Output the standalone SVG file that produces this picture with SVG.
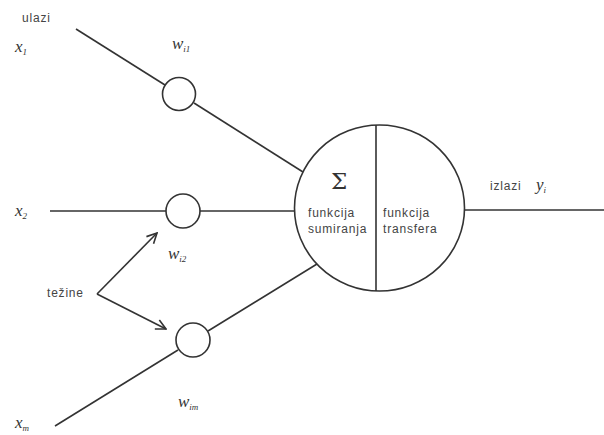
<svg xmlns="http://www.w3.org/2000/svg" width="604" height="435" viewBox="0 0 604 435">
  <style>
    .ln { stroke: #333; stroke-width: 1.6; fill: none; }
    .node { stroke: #333; stroke-width: 1.6; fill: #fff; }
    .lbl { font-family: "Liberation Sans", Arial, sans-serif; font-size: 12px; letter-spacing: 0.8px; fill: #444; }
    .var { font-family: "Liberation Serif", "Times New Roman", serif; font-style: italic; font-size: 17px; fill: #333; }
    .sub { font-size: 9px; }
  </style>
  <defs>
    <marker id="arr" viewBox="0 0 12 12" refX="11" refY="6" markerWidth="12" markerHeight="12" markerUnits="userSpaceOnUse" orient="auto">
      <path d="M1,1 L11,6 L1,11" fill="none" stroke="#333" stroke-width="1.6"/>
    </marker>
  </defs>

  <g id="connectors">
    <!-- input lines -->
    <line class="ln" x1="76" y1="29" x2="165" y2="85"/>
    <line class="ln" x1="194" y1="103" x2="303" y2="172"/>
    <line class="ln" x1="50" y1="211" x2="166" y2="211"/>
    <line class="ln" x1="200" y1="211" x2="295" y2="211"/>
    <line class="ln" x1="55" y1="426" x2="178" y2="350"/>
    <line class="ln" x1="208" y1="331" x2="317" y2="264"/>
    <!-- output line -->
    <line class="ln" x1="464" y1="210" x2="604" y2="210"/>
    <!-- weight arrows -->
    <line class="ln" x1="97" y1="294" x2="157" y2="233" marker-end="url(#arr)"/>
    <line class="ln" x1="97" y1="294" x2="166" y2="329" marker-end="url(#arr)"/>
  </g>

  <g id="w1">
    <circle class="node" cx="179" cy="94" r="16.5"/>
  </g>
  <g id="w2">
    <circle class="node" cx="183" cy="211" r="17"/>
  </g>
  <g id="wm">
    <circle class="node" cx="193" cy="340" r="17"/>
  </g>

  <g id="neuron">
    <ellipse class="node" cx="379.5" cy="208" rx="85" ry="83"/>
    <line class="ln" x1="376" y1="125" x2="376" y2="291"/>
    <text x="331" y="189" font-family="'DejaVu Serif', serif" font-size="23" fill="#333">Σ</text>
    <text class="lbl" x="308" y="217">funkcija</text>
    <text class="lbl" x="308" y="233">sumiranja</text>
    <text class="lbl" x="383" y="217">funkcija</text>
    <text class="lbl" x="383" y="233">transfera</text>
  </g>

  <g id="labels">
    <text class="lbl" x="22" y="22">ulazi</text>
    <text class="var" x="15" y="52">x<tspan class="sub" dy="3">1</tspan></text>
    <text class="var" x="172" y="49">w<tspan class="sub" dy="3">i1</tspan></text>
    <text class="var" x="15" y="216">x<tspan class="sub" dy="3">2</tspan></text>
    <text class="var" x="168" y="259">w<tspan class="sub" dy="3">i2</tspan></text>
    <text class="lbl" x="47" y="297">težine</text>
    <text class="var" x="178" y="407">w<tspan class="sub" dy="3">im</tspan></text>
    <text class="var" x="15" y="428">x<tspan class="sub" dy="3">m</tspan></text>
    <text class="lbl" x="490" y="190">izlazi</text>
    <text class="var" x="536" y="190">y<tspan class="sub" dy="3">i</tspan></text>
  </g>
</svg>
